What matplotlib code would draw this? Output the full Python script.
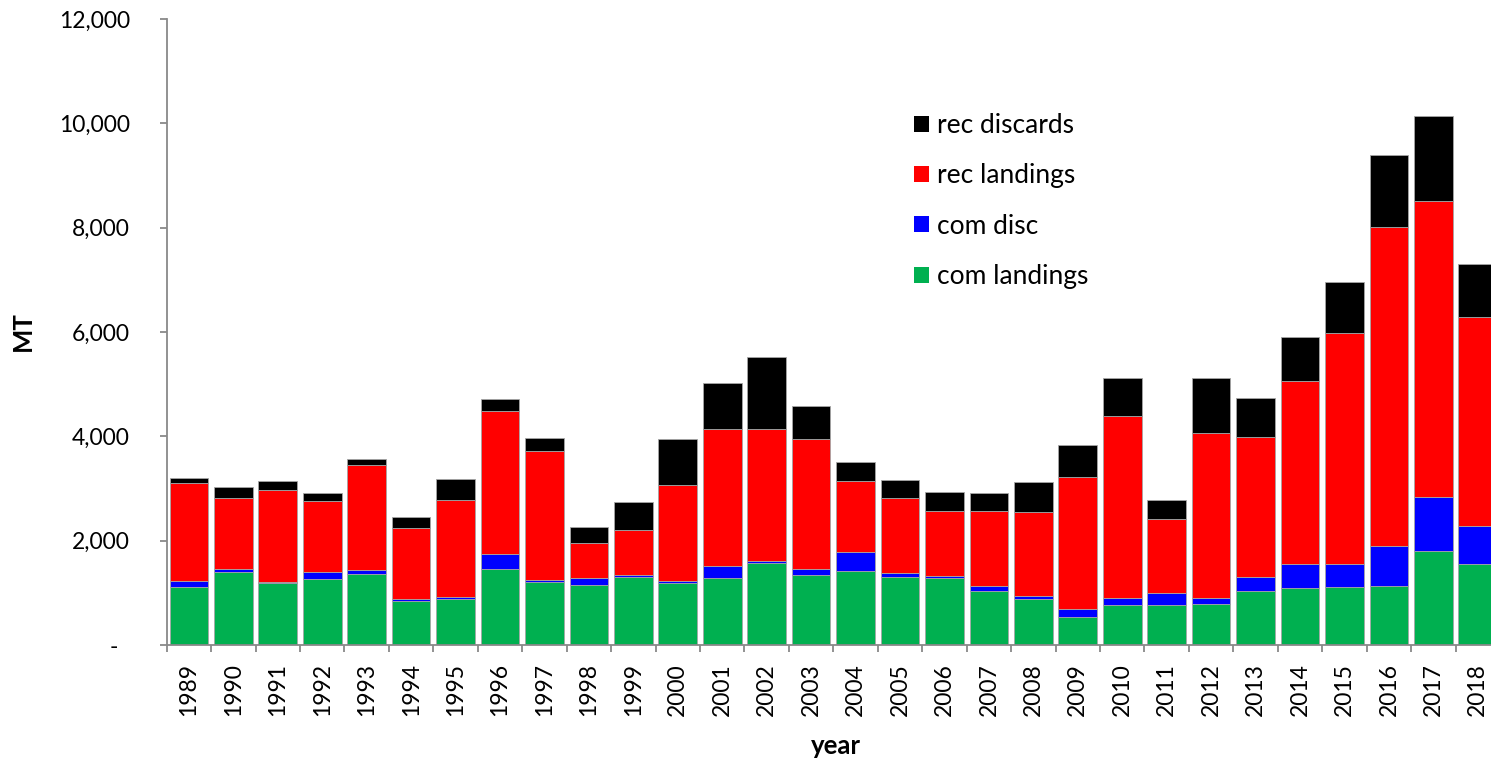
import numpy as np
import matplotlib
matplotlib.use("Agg")
import matplotlib.pyplot as plt
from matplotlib.ticker import FuncFormatter

# data (MT)
years = list(range(1989, 2019))
com_landings = [1110, 1405, 1195, 1265, 1360, 850, 890, 1450, 1200, 1150,
                1300, 1190, 1280, 1570, 1350, 1410, 1305, 1285, 1040, 880,
                535, 760, 770, 795, 1040, 1100, 1120, 1140, 1810, 1560]
com_disc = [110, 45, 10, 140, 70, 30, 30, 295, 50, 135,
            35, 45, 240, 45, 110, 380, 80, 40, 95, 65,
            160, 150, 230, 115, 265, 450, 425, 755, 1025, 715]
rec_landings = [1880, 1360, 1765, 1355, 2020, 1355, 1855, 2750, 2475, 670,
                865, 1835, 2620, 2525, 2490, 1355, 1440, 1245, 1430, 1605,
                2525, 3480, 1420, 3160, 2690, 3510, 4435, 6125, 5675, 4005]
rec_discards = [100, 225, 175, 155, 115, 210, 400, 225, 250, 315,
                535, 875, 880, 1375, 640, 370, 345, 365, 350, 580,
                620, 730, 355, 1040, 745, 840, 980, 1380, 1625, 1025]

series = [
    ("com landings", com_landings, "#00B050"),
    ("com disc", com_disc, "#0000FF"),
    ("rec landings", rec_landings, "#FF0000"),
    ("rec discards", rec_discards, "#000000"),
]

W, H = 1491, 762
fig = plt.figure(figsize=(W / 100, H / 100), dpi=100)
# axis runs a little past the right edge of the picture, as in the reference
ax = fig.add_axes([166.7 / W, 1 - 645 / H, (1500 - 166.7) / W, (645 - 19) / H])

x = np.arange(len(years))
bottom = np.zeros(len(years))
handles = []
for name, vals, col in series:
    b = ax.bar(x, vals, width=0.87, bottom=bottom, color=col,
               edgecolor="#a6a6a6", linewidth=0.6, label=name, zorder=2)
    handles.append(b)
    bottom += np.array(vals)

ax.set_xlim(-0.5, len(years) - 0.5)
ax.set_ylim(0, 12000)
ax.set_yticks(np.arange(0, 12001, 2000))
ax.yaxis.set_major_formatter(FuncFormatter(lambda v, p: "-  " if v == 0 else f"{int(v):,}"))

ax.set_xticks(x)
ax.set_xticklabels([str(y) for y in years], rotation=90, fontsize=16.5, family="Lato")
ax.set_xticks(np.arange(-0.5, len(years), 1), minor=True)
ax.tick_params(axis="x", which="major", length=0, pad=13)
ax.tick_params(axis="x", which="minor", length=5, width=1.3, color="#898989")
ax.tick_params(axis="y", length=5, width=1.3, color="#898989", labelsize=16.5, pad=21.5)
for lbl in ax.get_yticklabels():
    lbl.set_family("Lato")

for s in ["top", "right"]:
    ax.spines[s].set_visible(False)
for s in ["left", "bottom"]:
    ax.spines[s].set_color("#898989")
    ax.spines[s].set_linewidth(1.3)

fig.text(22.5 / W, 1 - 331 / H, "MT", rotation=90, fontsize=18.5, fontweight="bold",
         family="Lato", ha="center", va="center")
fig.text(836 / W, 1 - 746 / H, "year", fontsize=18.5, fontweight="bold",
         family="Lato", ha="center", va="center")

leg = ax.legend(handles[::-1], [s[0] for s in series][::-1],
                loc="upper left", bbox_to_anchor=(914 / W, 1 - 113 / H),
                bbox_transform=fig.transFigure, frameon=False,
                prop={"family": "Lato", "size": 19},
                handlelength=0.57, handleheight=0.57, handletextpad=0.3,
                labelspacing=0.96, borderpad=0, borderaxespad=0)
for h in leg.legend_handles:
    h.set_edgecolor("none")

fig.savefig("out.png", dpi=100)
